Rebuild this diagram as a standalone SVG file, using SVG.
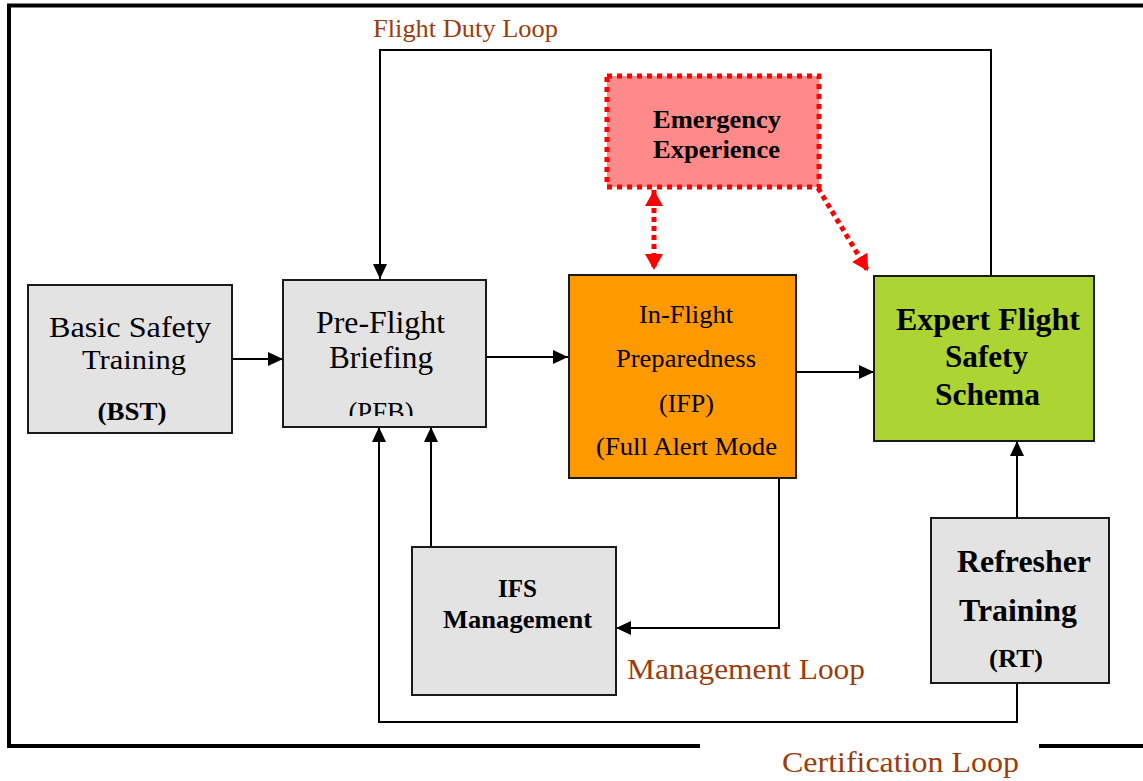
<svg xmlns="http://www.w3.org/2000/svg" width="1143" height="781" viewBox="0 0 1143 781">
<style>
  .box { stroke: #1a1a1a; stroke-width: 2; }
  .gray { fill: #e3e3e3; }
  .t { font-family: "Liberation Serif", "Times New Roman", serif; fill: #000; text-anchor: middle; }
  .b { font-weight: bold; }
  .loop { font-family: "Liberation Serif", "Times New Roman", serif; fill: #9b3d0c; }
  .conn { fill: none; stroke: #000; stroke-width: 2; }
  .red { fill: none; stroke: #ff0000; stroke-width: 5; stroke-dasharray: 5 4; }
  .frame { fill: none; stroke: #000; stroke-width: 4; }
</style>
<defs>
  <marker id="ah" markerUnits="userSpaceOnUse" markerWidth="16" markerHeight="14" refX="15" refY="7" orient="auto">
    <path d="M0,0 L15,7 L0,14 z" fill="#000"/>
  </marker>
  <marker id="rh" markerUnits="userSpaceOnUse" markerWidth="17" markerHeight="18" refX="16" refY="9" orient="auto-start-reverse">
    <path d="M0,0 L16,9 L0,18 z" fill="#ff0000"/>
  </marker>
  <clipPath id="pfbclip"><rect x="283" y="280" width="203" height="136"/></clipPath>
</defs>

<path class="frame" d="M1143,5.5 H9 V746 H700"/>
<path class="frame" d="M1039,746 H1143"/>

<g id="connectors">
  <path class="conn" d="M232,359 H283" marker-end="url(#ah)"/>
  <path class="conn" d="M486,357 H568" marker-end="url(#ah)"/>
  <path class="conn" d="M796,372 H874" marker-end="url(#ah)"/>
  <path class="conn" d="M991,276 V50 H380 V279" marker-end="url(#ah)"/>
  <path class="conn" d="M779,478 V628 H616" marker-end="url(#ah)"/>
  <path class="conn" d="M431,547 V427" marker-end="url(#ah)"/>
  <path class="conn" d="M1017,518 V441" marker-end="url(#ah)"/>
  <path class="conn" d="M1017,683 V722 H379 V427" marker-end="url(#ah)"/>
  <path class="red" d="M654,190 V270" marker-start="url(#rh)" marker-end="url(#rh)"/>
  <path class="red" d="M818,188 L868,271" marker-end="url(#rh)"/>
</g>

<g id="bst">
  <rect class="box gray" x="28" y="285" width="204" height="148"/>
  <text class="t" x="130" y="337" font-size="30" textLength="162" lengthAdjust="spacingAndGlyphs">Basic Safety</text>
  <text class="t" x="134" y="369" font-size="28" textLength="104" lengthAdjust="spacingAndGlyphs">Training</text>
  <text class="t b" x="132" y="420" font-size="26" textLength="69" lengthAdjust="spacingAndGlyphs">(BST)</text>
</g>

<g id="pfb">
  <rect class="box gray" x="283" y="280" width="203" height="147"/>
  <text class="t" x="380.5" y="333" font-size="31" textLength="129" lengthAdjust="spacingAndGlyphs">Pre-Flight</text>
  <text class="t" x="381" y="368" font-size="31" textLength="104" lengthAdjust="spacingAndGlyphs">Briefing</text>
  <text class="t" x="381" y="421" font-size="27" textLength="65" lengthAdjust="spacingAndGlyphs" clip-path="url(#pfbclip)">(PFB)</text>
</g>

<g id="ifp">
  <rect class="box" x="569" y="275" width="227" height="203" fill="#ff9900"/>
  <text class="t" x="686" y="323" font-size="25" textLength="94" lengthAdjust="spacingAndGlyphs">In-Flight</text>
  <text class="t" x="686" y="367" font-size="25" textLength="140" lengthAdjust="spacingAndGlyphs">Preparedness</text>
  <text class="t" x="686.5" y="412" font-size="25" textLength="55" lengthAdjust="spacingAndGlyphs">(IFP)</text>
  <text class="t" x="686.5" y="455" font-size="25" textLength="181" lengthAdjust="spacingAndGlyphs">(Full Alert Mode</text>
</g>

<g id="efs">
  <rect class="box" x="874" y="276" width="220" height="165" fill="#acd432"/>
  <text class="t b" x="988" y="330" font-size="31" textLength="184" lengthAdjust="spacingAndGlyphs">Expert Flight</text>
  <text class="t b" x="986.5" y="367" font-size="31" textLength="83" lengthAdjust="spacingAndGlyphs">Safety</text>
  <text class="t b" x="987.5" y="405" font-size="31" textLength="105" lengthAdjust="spacingAndGlyphs">Schema</text>
</g>

<g id="emergency">
  <rect x="607" y="76" width="212" height="111" fill="#ff8a8a" stroke="#ff0000" stroke-width="5" stroke-dasharray="5 5"/>
  <text class="t b" x="717" y="128" font-size="26" textLength="128" lengthAdjust="spacingAndGlyphs">Emergency</text>
  <text class="t b" x="716.5" y="158" font-size="26" textLength="127" lengthAdjust="spacingAndGlyphs">Experience</text>
</g>

<g id="ifs">
  <rect class="box gray" x="412" y="547" width="204" height="148"/>
  <text class="t b" x="517.5" y="597" font-size="25" textLength="39" lengthAdjust="spacingAndGlyphs">IFS</text>
  <text class="t b" x="517.5" y="628" font-size="26" textLength="149" lengthAdjust="spacingAndGlyphs">Management</text>
</g>

<g id="rt">
  <rect class="box gray" x="931" y="518" width="178" height="165"/>
  <text class="t b" x="1024" y="572" font-size="31" textLength="134" lengthAdjust="spacingAndGlyphs">Refresher</text>
  <text class="t b" x="1018" y="621" font-size="31" textLength="118" lengthAdjust="spacingAndGlyphs">Training</text>
  <text class="t b" x="1016" y="667" font-size="26" textLength="54" lengthAdjust="spacingAndGlyphs">(RT)</text>
</g>

<g id="labels">
  <text class="loop" x="373" y="37" font-size="25.5" textLength="185" lengthAdjust="spacingAndGlyphs">Flight Duty Loop</text>
  <text class="loop" x="627" y="679" font-size="30" textLength="238" lengthAdjust="spacingAndGlyphs">Management Loop</text>
  <text class="loop" x="782" y="772" font-size="30" textLength="237" lengthAdjust="spacingAndGlyphs">Certification Loop</text>
</g>
</svg>
